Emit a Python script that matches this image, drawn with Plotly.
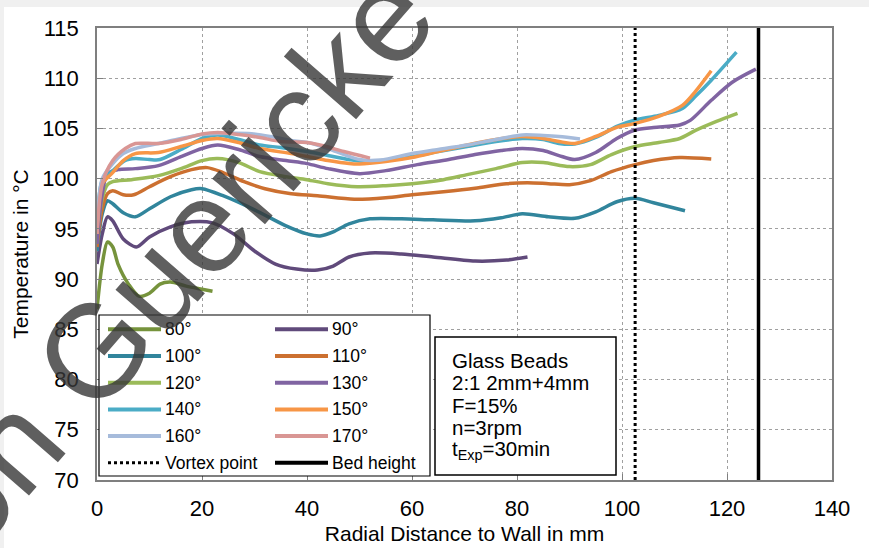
import plotly.graph_objects as go

# ---------------- data ----------------
angles = ["80°", "90°", "100°", "110°", "120°", "130°", "140°", "150°", "160°", "170°"]
colors = ["#76933c", "#604a7b", "#31859c", "#cc7030", "#9bbb59",
          "#8064a2", "#4bacc6", "#f79646", "#a6bbdb", "#d99694"]

x80 = [0, 1, 2, 3, 4, 6, 8, 10, 12, 14, 17, 20, 22]
y80 = [87.0, 91.5, 93.7, 93.2, 91.5, 89.5, 88.3, 88.6, 89.5, 89.7, 89.3, 89.0, 88.8]

x90 = [0, 1, 2, 3, 5, 7.5, 10, 14, 18, 22, 26, 30, 34, 38, 42, 45, 48, 52, 58, 64, 72, 78, 82]
y90 = [91.5, 94.5, 96.2, 95.8, 94.0, 93.2, 94.2, 95.2, 95.7, 95.6, 94.5, 92.8, 91.5, 91.0,
       90.9, 91.3, 92.2, 92.6, 92.5, 92.2, 91.8, 91.9, 92.2]

x100 = [0, 1, 2, 3, 5, 7.3, 10, 14, 18, 20, 24, 30, 36, 40, 42.5, 45, 48, 52, 58, 64, 72,
        77, 81, 86, 91, 95, 99, 102.5, 106, 112]
y100 = [92.8, 96.5, 97.8, 97.5, 96.6, 96.2, 97.0, 98.2, 98.9, 99.0, 98.3, 96.9, 95.3, 94.5,
        94.3, 94.7, 95.5, 96.0, 96.0, 95.9, 95.8, 96.1, 96.5, 96.2, 96.05, 96.7, 97.7, 98.05,
        97.6, 96.8]

x110 = [0, 1, 2, 3, 5, 7, 10, 14, 18, 21, 24, 28, 32, 37, 42, 49, 55, 60, 66, 72, 78, 82,
        86, 90, 94, 98, 102.5, 106, 111, 117]
y110 = [93.2, 97.0, 98.5, 98.8, 98.4, 98.4, 99.2, 100.2, 100.9, 101.1, 100.6, 99.7, 99.0,
        98.5, 98.3, 97.95, 98.1, 98.4, 98.7, 99.05, 99.5, 99.6, 99.5, 99.4, 99.8, 100.7,
        101.4, 101.8, 102.1, 101.95]

x120 = [0, 1, 2, 3, 6.6, 11.7, 16, 20, 23, 27, 31, 36, 40, 44, 49.6, 55, 60, 66, 70.5, 76,
        81, 85, 90, 94, 98, 102.5, 107, 111, 114, 118, 122]
y120 = [94.0, 98.0, 99.4, 99.7, 99.9, 100.3, 101.0, 101.8, 102.0, 101.6, 100.7, 100.2, 99.9,
        99.5, 99.2, 99.3, 99.5, 99.9, 100.4, 101.0, 101.6, 101.6, 101.2, 101.4, 102.4, 103.2,
        103.6, 104.0, 104.8, 105.7, 106.5]

x130 = [0, 1, 2, 4, 7.3, 11.7, 16, 20, 23, 27, 31, 36, 40, 44, 50, 55, 61, 67, 72, 77, 81,
        85, 88, 91, 95, 99, 102.5, 106, 111, 113, 117, 121, 125.5]
y130 = [93.5, 98.5, 100.5, 100.9, 101.0, 101.3, 102.2, 103.0, 103.35, 102.9, 102.2, 101.8,
        101.5, 101.0, 100.5, 100.8, 101.4, 101.9, 102.4, 102.8, 103.0, 102.8, 102.3, 101.9,
        102.6, 104.0, 104.85, 105.1, 105.35, 105.8, 107.8, 109.6, 110.9]

x140 = [0, 1, 2.8, 5.3, 7.3, 10, 12, 16, 20, 23, 27, 31, 35, 40, 44, 48, 51, 56, 60, 65,
        70.5, 76, 81, 85, 88, 91, 95, 99, 102.5, 107, 111.5, 114, 117, 121.8]
y140 = [95.0, 99.8, 100.7, 101.8, 102.0, 101.9, 101.9, 102.9, 104.0, 104.35, 103.9, 103.35,
        103.1, 102.7, 102.3, 101.9, 101.7, 101.9, 102.2, 102.7, 103.2, 103.7, 104.0, 103.9,
        103.5, 103.45, 104.1, 105.2, 105.85, 106.3, 107.0, 108.2, 109.8, 112.6]

x150 = [0, 1, 2.8, 5, 7.3, 11.7, 16, 20, 23, 27, 31, 37, 40, 44, 48, 50, 55, 60, 65, 70.5,
        76, 81, 85, 88, 91, 95, 99, 102.5, 107, 111.5, 114, 117]
y150 = [94.5, 99.5, 100.5, 101.8, 102.5, 102.6, 103.2, 103.8, 104.0, 103.6, 103.0, 102.5,
        102.2, 101.8, 101.5, 101.45, 101.7, 102.1, 102.7, 103.35, 103.9, 104.2, 104.0, 103.7,
        103.5, 104.2, 105.1, 105.5, 106.2, 107.3, 108.7, 110.75]

x160 = [0, 1, 3, 5, 7.3, 11.7, 16, 20, 23, 28.8, 33, 37, 41, 45, 50, 54, 60, 65, 70.5, 76,
        81, 85, 88, 92]
y160 = [95.0, 100.0, 101.5, 102.5, 103.0, 103.5, 104.0, 104.4, 104.5, 104.5, 104.2, 103.8,
        103.5, 102.8, 101.9, 101.85, 102.5, 102.9, 103.35, 103.9, 104.35, 104.3, 104.2, 103.95]

x170 = [0, 1, 3, 5.4, 7.3, 11.7, 16, 20, 23, 27, 31, 35, 40, 43.3, 47, 52]
y170 = [94.5, 99.5, 101.8, 103.0, 103.5, 103.5, 103.9, 104.45, 104.6, 104.4, 104.1, 103.7,
        103.6, 103.25, 102.7, 102.05]

series_x = [x80, x90, x100, x110, x120, x130, x140, x150, x160, x170]
series_y = [y80, y90, y100, y110, y120, y130, y140, y150, y160, y170]

vortex_x = 102.5
bed_x = 126.0

info_lines = ["Glass Beads", "2:1 2mm+4mm", "F=15%", "n=3rpm", "t<sub>Exp</sub>=30min"]
legend_labels = angles + ["Vortex point", "Bed height"]

x_range = [0, 140]
y_range = [70, 115]

# ---------------- layout geometry (pixels) ----------------
W, H = 869, 548
ML, MR, MT, MB = 97, 37, 28, 68
PW, PH = W - ML - MR, H - MT - MB


def px(xp):
    return (xp - ML) / PW


def py(yp):
    return (H - MB - yp) / PH


FONT = "Arial, Liberation Sans, sans-serif"

fig = go.Figure()

for name, col, xs, ys in zip(angles, colors, series_x, series_y):
    fig.add_trace(go.Scatter(x=xs, y=ys, mode="lines", name=name,
                             line=dict(color=col, width=3.5, shape="spline", smoothing=0.8),
                             showlegend=False))

fig.add_trace(go.Scatter(x=[vortex_x, vortex_x], y=y_range, mode="lines", name="Vortex point",
                         line=dict(color="black", width=3, dash="dot"), showlegend=False))
fig.add_trace(go.Scatter(x=[bed_x, bed_x], y=y_range, mode="lines", name="Bed height",
                         line=dict(color="black", width=3.5), showlegend=False))

shapes = []
annotations = []

# legend box
shapes.append(dict(type="rect", xref="paper", yref="paper", x0=px(99), x1=px(430),
                   y0=py(476), y1=py(315), line=dict(color="black", width=1.2),
                   fillcolor="white", layer="above"))
legend_styles = [dict(color=c, width=4) for c in colors] + \
                [dict(color="black", width=3, dash="dot"), dict(color="black", width=4)]
for i, (lab, ls) in enumerate(zip(legend_labels, legend_styles)):
    row, colm = divmod(i, 2)
    yc = 329.3 + row * 26.7
    x0 = 108 + colm * 167
    shapes.append(dict(type="line", xref="paper", yref="paper", x0=px(x0), x1=px(x0 + 53),
                       y0=py(yc), y1=py(yc), line=ls, layer="above"))
    annotations.append(dict(xref="paper", yref="paper", x=px(x0 + 55), y=py(yc), text=lab,
                            showarrow=False, xanchor="left", yanchor="middle",
                            font=dict(family=FONT, size=17.5, color="black")))

# info box
shapes.append(dict(type="rect", xref="paper", yref="paper", x0=px(435), x1=px(616),
                   y0=py(475), y1=py(337), line=dict(color="black", width=1.5),
                   fillcolor="white", layer="above"))
for j, t in enumerate(info_lines):
    annotations.append(dict(xref="paper", yref="paper", x=px(450), y=py(360 + j * 22.6), text=t,
                            showarrow=False, xanchor="left", yanchor="middle",
                            font=dict(family=FONT, size=20.5, color="black")))

# light gray page border like the screenshot
shapes.append(dict(type="rect", xref="paper", yref="paper", x0=px(0), x1=px(W), y0=py(7), y1=py(0),
                   line=dict(width=0), fillcolor="#f0f0f0", layer="below"))
shapes.append(dict(type="rect", xref="paper", yref="paper", x0=px(0), x1=px(4), y0=py(H), y1=py(0),
                   line=dict(width=0), fillcolor="#f0f0f0", layer="below"))

# watermark
annotations.append(dict(xref="paper", yref="paper", x=px(152), y=py(284), text="von Guericke",
                        showarrow=False, xanchor="center", yanchor="middle", textangle=-49,
                        font=dict(family=FONT, size=132, color="rgba(55,55,55,0.8)")))

axis_common = dict(showline=True, linecolor="#7f7f7f", linewidth=1.5, mirror=True,
                   showgrid=True, gridcolor="#a0a0a0", gridwidth=1, griddash="dot",
                   ticks="inside", ticklen=6, tickcolor="#7f7f7f", zeroline=False,
                   automargin=False,
                   tickfont=dict(family=FONT, size=22, color="black"))

fig.update_layout(
    width=W, height=H,
    margin=dict(l=ML, r=MR, t=MT, b=MB, autoexpand=False),
    paper_bgcolor="white", plot_bgcolor="white",
    showlegend=False,
    shapes=shapes, annotations=annotations,
    xaxis=dict(range=x_range, dtick=20, ticklabelstandoff=8,
               title=dict(text="Radial Distance to Wall in mm", standoff=6,
                          font=dict(family=FONT, size=21, color="black")), **axis_common),
    yaxis=dict(range=y_range, dtick=5, ticklabelstandoff=12,
               title=dict(text="Temperature in °C", standoff=8,
                          font=dict(family=FONT, size=21, color="black")), **axis_common),
)

fig.write_html("out.html")
